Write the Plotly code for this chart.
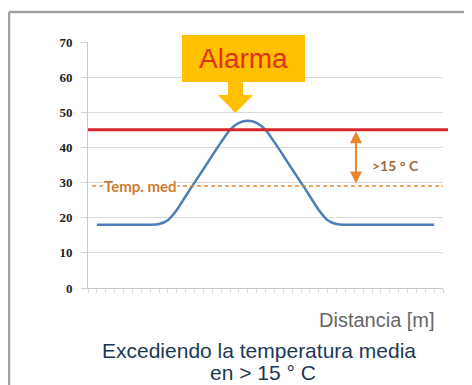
import plotly.graph_objects as go

# ---- data ----
distance = [0, 1, 2, 3, 4, 5, 6, 7, 8, 9, 10, 11, 12, 13, 14, 15, 16, 17,
            18, 19, 20, 21, 22, 23, 24, 25, 26, 27, 28, 29, 30, 31, 32, 33, 34, 35, 36, 37, 38]
temperature = [18, 18, 18, 18, 18, 18, 18, 18.2, 19.3, 22.2, 26.1, 30.0, 33.8, 37.7, 41.5, 45.0, 47.0, 47.6,
               47.0, 45.0, 41.5, 37.7, 33.8, 30.0, 26.1, 22.2, 19.3, 18.2, 18, 18, 18, 18, 18, 18, 18, 18, 18, 18, 18]
alarm_level = 45
mean_temp = 29
y_ticks = [0, 10, 20, 30, 40, 50, 60, 70]

OFF = 8  # page body margin
W, H = 472 - OFF, 385 - OFF
# plot area in screen pixels
L, R, T, B = 88, 443, 42, 288


def px(x):
    return (x - L) / (R - L)


def py(y):
    return (B - y) / (B - T)


fig = go.Figure()
fig.add_trace(go.Scatter(x=distance, y=temperature, mode="lines",
                         line=dict(color="#4F7DB8", width=2.5, shape="spline", smoothing=0.8),
                         hoverinfo="skip", showlegend=False))

shapes = []
# frame
shapes.append(dict(type="line", xref="paper", yref="paper", x0=px(9), x1=px(490), y0=py(12), y1=py(12),
                   line=dict(color="#A0A0A0", width=2.5)))
shapes.append(dict(type="line", xref="paper", yref="paper", x0=px(9), x1=px(9), y0=py(12), y1=py(420),
                   line=dict(color="#A0A0A0", width=2.5)))
# mean temperature dashed line
shapes.append(dict(type="line", xref="paper", yref="y", x0=px(92), x1=px(443), y0=mean_temp, y1=mean_temp,
                   line=dict(color="#E28A3C", width=1.5, dash="4px,3px")))
# alarm line
shapes.append(dict(type="line", xref="paper", yref="y", x0=px(88), x1=px(448), y0=alarm_level, y1=alarm_level,
                   line=dict(color="#D8262E", width=3)))
# alarm box
shapes.append(dict(type="rect", xref="paper", yref="paper", x0=px(182), x1=px(305), y0=py(82), y1=py(35),
                   fillcolor="#FFC000", line=dict(width=0)))
# alarm arrow
pts = [(228, 81), (243, 81), (243, 95), (253, 95), (235.5, 113), (218, 95), (228, 95)]
path = "M " + " L ".join(f"{px(a):.5f},{py(b):.5f}" for a, b in pts) + " Z"
shapes.append(dict(type="path", xref="paper", yref="paper", path=path,
                   fillcolor="#FFC000", line=dict(width=0)))

annotations = [
    dict(xref="paper", yref="paper", x=px(243.5), y=py(58.5), text="Alarma", showarrow=False,
         font=dict(family="Liberation Sans", size=28, color="#E3311D"), xanchor="center", yanchor="middle"),
    dict(xref="paper", yref="y", x=px(140), y=mean_temp, text="Temp. med", showarrow=False,
         bgcolor="white", borderpad=0,
         font=dict(family="Lato", size=15, color="#CC7C30", weight="bold"),
         xanchor="center", yanchor="middle"),
    dict(xref="paper", yref="paper", x=px(395), y=py(165), text="&gt;15 ° C", showarrow=False,
         font=dict(family="Lato", size=14, color="#A0683A", weight="bold"),
         xanchor="center", yanchor="middle"),
    dict(xref="x", yref="y", x=29.2, y=44.6, ax=29.2, ay=29.3, axref="x", ayref="y", text="",
         showarrow=True, arrowside="end+start", arrowhead=2, arrowsize=1.2, arrowwidth=2,
         arrowcolor="#E8892F", standoff=0, startstandoff=0),
    dict(xref="paper", yref="paper", x=px(437), y=py(320), text="Distancia [m]", showarrow=False,
         font=dict(family="Liberation Sans", size=20, color="#666666"), xanchor="right", yanchor="middle"),
    dict(xref="paper", yref="paper", x=px(259), y=py(350), text="Excediendo la temperatura media",
         showarrow=False, font=dict(family="Liberation Sans", size=21, color="#1C3857"),
         xanchor="center", yanchor="middle"),
    dict(xref="paper", yref="paper", x=px(263), y=py(372), text="en &gt; 15 ° C",
         showarrow=False, font=dict(family="Liberation Sans", size=21, color="#1C3857"),
         xanchor="center", yanchor="middle"),
]

fig.update_layout(
    width=W, height=H,
    margin=dict(l=L - OFF, r=472 - R, t=T - OFF, b=385 - B, pad=0),
    paper_bgcolor="white", plot_bgcolor="white",
    shapes=shapes, annotations=annotations,
    xaxis=dict(range=[-1, 39], showgrid=False, zeroline=False, showline=True, linecolor="#C8C8C8",
               linewidth=1, ticks="outside", ticklen=4, tickcolor="#D8D8D8", tickmode="linear",
               tick0=0, dtick=1, showticklabels=False, fixedrange=True),
    yaxis=dict(range=[0, 70], tickvals=y_ticks, showgrid=True, gridcolor="#DADADA", gridwidth=1,
               zeroline=False, showline=True, linecolor="#C8C8C8", linewidth=1,
               ticks="outside", ticklen=6, tickcolor="#D0D0D0", ticklabelstandoff=6,
               tickfont=dict(family="Liberation Serif", size=13, color="#222222", weight="bold"),
               fixedrange=True),
)

fig.write_html("out.html")
